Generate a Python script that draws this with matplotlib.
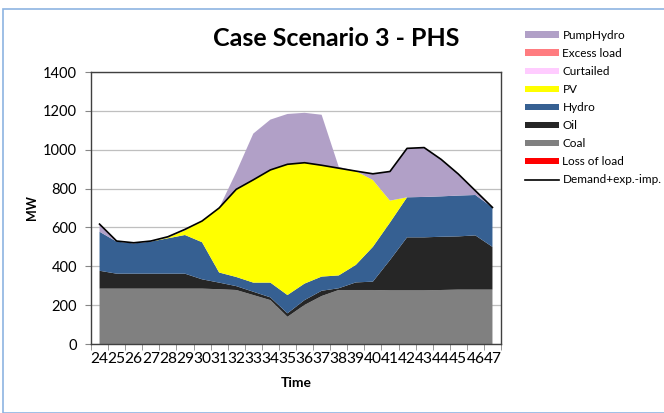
import numpy as np
from matplotlib import pyplot as plt
from matplotlib.patches import Patch, Rectangle
from matplotlib.lines import Line2D

plt.rcParams['font.family'] = ['Lato', 'DejaVu Sans']

# Hours shown on the x axis
hours = list(range(24, 48))

# MW per technology
coal = [285, 285, 285, 285, 285, 285, 285, 282, 278, 252, 226, 140,
        201, 247, 278, 278, 278, 276, 276, 276, 278, 280, 280, 280]
oil = [92, 77, 77, 77, 77, 77, 48, 34, 20, 17, 14, 18,
       25, 27, 9, 39, 43, 156, 273, 273, 274, 274, 279, 220]
hydro = [201, 165, 156, 165, 182, 199, 191, 52, 47, 47, 76, 94,
         85, 73, 66, 90, 179, 193, 206, 208, 208, 210, 208, 203]
pv = [0, 0, 0, 0, 4, 24, 109, 332, 448, 529, 580, 673,
      622, 573, 552, 483, 344, 113, 0, 0, 0, 0, 0, 0]
pumphydro = [39, 3, 3, 3, 4, 5, 0, 0, 91, 238, 259, 259,
             257, 260, 7, 0, 32, 150, 252, 254, 190, 111, 22, 0]
curtailed = [0] * 24
excess_load = [0] * 24
loss_of_load = [0] * 24

# Demand + export - import
demand = [617, 530, 521, 530, 552, 590, 633, 700, 796, 845, 896, 925,
          933, 920, 905, 890, 876, 888, 1007, 1011, 950, 875, 789, 703]

colors = {
    'PumpHydro': '#B1A0C7',
    'Excess load': '#FF7C80',
    'Curtailed': '#FFCCFF',
    'PV': '#FFFF00',
    'Hydro': '#366092',
    'Oil': '#262626',
    'Coal': '#808080',
    'Loss of load': '#FF0000',
}

fig = plt.figure(figsize=(6.64, 4.13), dpi=100)

# light blue frame round the chart
fig.patches.append(Rectangle((3 / 664, 0), 1.2, (413 - 9) / 413, transform=fig.transFigure,
                             fill=False, edgecolor='#8DB4E2', linewidth=1.2))

ax = fig.add_axes([91 / 664, 1 - 344 / 413, 410 / 664, 272 / 413])

x = np.arange(len(hours))
stack_names = ['Loss of load', 'Coal', 'Oil', 'Hydro', 'PV', 'Curtailed', 'Excess load', 'PumpHydro']
stack_vals = [loss_of_load, coal, oil, hydro, pv, curtailed, excess_load, pumphydro]
ax.stackplot(x, *stack_vals, colors=[colors[n] for n in stack_names], linewidth=0)
ax.plot(x, demand, color='black', linewidth=1.2)

ax.set_xlim(-0.5, len(hours) - 0.5)
ax.set_ylim(0, 1400)
ax.set_yticks(range(0, 1401, 200))
ax.grid(axis='y', color='#BFBFBF', linewidth=0.9)
ax.set_axisbelow(True)

ax.set_xticks(x)
ax.set_xticklabels([str(h) for h in hours])
ax.set_xticks(np.arange(-0.5, len(hours)), minor=True)
ax.tick_params(axis='x', which='major', length=0, labelsize=11.2, pad=6)
ax.tick_params(axis='x', which='minor', length=4, color='#868686')
ax.tick_params(axis='y', length=4, color='#868686', labelsize=10.5, pad=6)

for s in ax.spines.values():
    s.set_color('#404040')
    s.set_linewidth(1)

ax.set_xlabel('Time', fontweight='bold', fontsize=10, labelpad=8)
ax.set_ylabel('MW', fontweight='bold', fontsize=9, labelpad=4)
fig.text(336 / 664, 1 - 38 / 413, 'Case Scenario 3 - PHS', ha='center', va='center',
         fontsize=18, fontweight='bold')

legend_order = ['PumpHydro', 'Excess load', 'Curtailed', 'PV', 'Hydro', 'Oil', 'Coal', 'Loss of load']
handles = [Patch(facecolor=colors[n], edgecolor='none', label=n) for n in legend_order]
handles.append(Line2D([], [], color='black', linewidth=1.2, label='Demand+exp.-imp.'))
fig.legend(handles=handles, loc='upper left', bbox_to_anchor=(520 / 664, 1 - 25 / 413),
           frameon=False, fontsize=8.5, handlelength=2.9, handleheight=0.45,
           labelspacing=0.6, handletextpad=0.3, borderaxespad=0)

fig.savefig('out.png', dpi=100)
